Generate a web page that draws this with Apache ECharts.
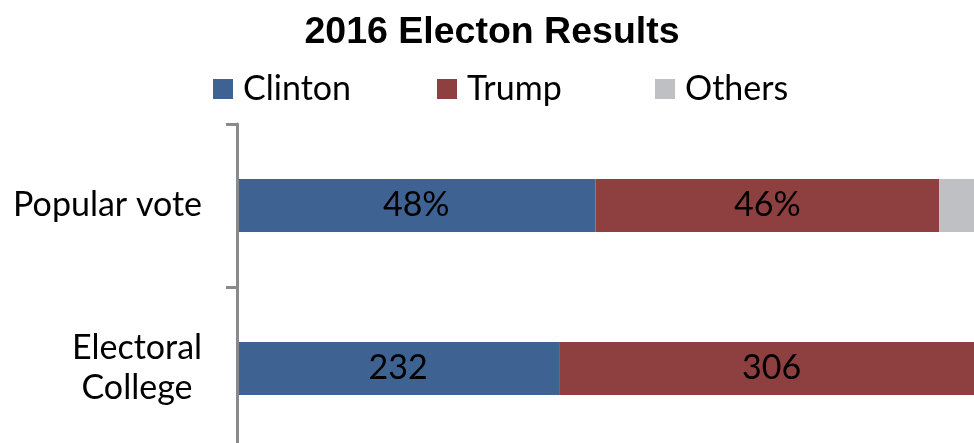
<!DOCTYPE html>
<html>
<head>
<meta charset="utf-8">
<script src="https://cdn.jsdelivr.net/npm/echarts@6/dist/echarts.min.js"></script>
<style>
html, body { margin: 0; padding: 0; background: #fff; overflow: hidden; }
/* 画布比窗口略大，右侧和底部被裁掉（和原图一样） */
#chart { width: 984px; height: 450px; }
</style>
</head>
<body>
<div id="chart"></div>
<script>
// 数据
var categories = ['Popular vote', 'Electoral College'];
var clinton = [48, 232];
var trump = [46, 306];
var others = [6, 0];
var units = ['%', ''];   // 标签单位

var BODY_FONT = 'Lato';
var FS = 34;

// 每行合计，用来算百分比（100% 堆叠）
var totals = categories.map(function (c, i) {
    return clinton[i] + trump[i] + others[i];
});
function share(arr) {
    return arr.map(function (v, i) { return v / totals[i] * 100; });
}
function labelFor(arr) {
    return function (p) { return arr[p.dataIndex] + units[p.dataIndex]; };
}

var myChart = echarts.init(document.getElementById('chart'));

function legendAt(name, left) {
    return {
        data: [name],
        left: left,
        top: 72,
        padding: 0,
        icon: 'rect',
        itemWidth: 20,
        itemHeight: 20,
        selectedMode: false,
        textStyle: {
            fontFamily: BODY_FONT,
            fontSize: FS,
            color: '#000',
            padding: [0, 0, 0, 5]
        }
    };
}

myChart.setOption({
    animation: false,
    title: {
        text: '2016 Electon Results',
        left: 'center',
        top: 9,
        textStyle: {
            fontFamily: 'Liberation Sans',
            fontWeight: 'bold',
            fontSize: 37.5,
            color: '#000'
        }
    },
    legend: [
        legendAt('Clinton', 213),
        legendAt('Trump', 437),
        legendAt('Others', 655)
    ],
    grid: {
        left: 237,
        right: 0,
        top: 124,
        bottom: 0,
        containLabel: false
    },
    xAxis: {
        type: 'value',
        min: 0,
        max: 100,
        show: false
    },
    yAxis: {
        type: 'category',
        data: categories,
        inverse: true,
        z: 5,
        axisLine: { lineStyle: { color: '#8a8a8e', width: 3 } },
        axisTick: { show: true, length: 11, lineStyle: { color: '#8a8a8e', width: 3 } },
        axisLabel: {
            margin: 35,
            color: '#000',
            fontFamily: BODY_FONT,
            fontSize: FS,
            lineHeight: 40,
            formatter: function (v) {
                if (v === 'Electoral College') {
                    return '{c|Electoral}\n{c|College}';
                }
                return v;
            },
            rich: {
                c: {
                    width: 130,
                    align: 'center',
                    fontFamily: BODY_FONT,
                    fontSize: FS,
                    lineHeight: 40,
                    color: '#000'
                }
            }
        }
    },
    series: [
        {
            name: 'Clinton',
            type: 'bar',
            stack: 'all',
            barWidth: 53,
            data: share(clinton),
            itemStyle: { color: '#3e6291' },
            label: {
                show: true,
                color: '#000',
                fontFamily: BODY_FONT,
                fontSize: FS,
                formatter: labelFor(clinton)
            }
        },
        {
            name: 'Trump',
            type: 'bar',
            stack: 'all',
            barWidth: 53,
            data: share(trump),
            itemStyle: { color: '#8e3f40' },
            label: {
                show: true,
                color: '#000',
                fontFamily: BODY_FONT,
                fontSize: FS,
                formatter: labelFor(trump)
            }
        },
        {
            name: 'Others',
            type: 'bar',
            stack: 'all',
            barWidth: 53,
            data: share(others),
            itemStyle: { color: '#bfc0c4' },
            label: { show: false }
        }
    ]
});
</script>
</body>
</html>
